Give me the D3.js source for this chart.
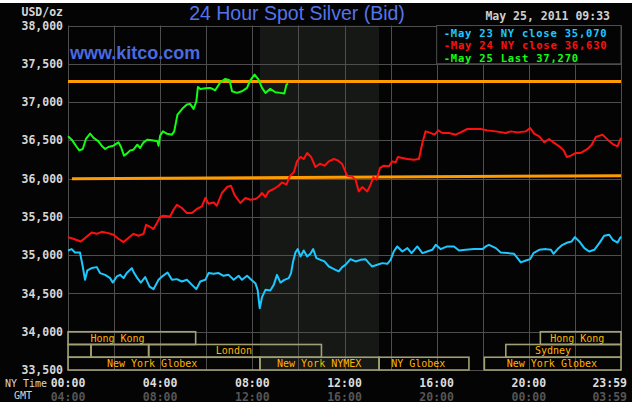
<!DOCTYPE html>
<html>
<head>
<meta charset="utf-8">
<script src="https://cdn.jsdelivr.net/npm/d3@7"></script>
<style>
  body { margin: 0; background: #fff; }
  .mono { font-family: "DejaVu Sans Mono", monospace; font-weight: bold; }
</style>
</head>
<body>
<svg width="638" height="407"></svg>
<script>
// hours since NY midnight, price USD/oz
var may23 = [[0,35061],[0.16,35079],[0.3,35035],[0.52,35035],[0.64,34852],[0.74,34678],[0.84,34800],[1.03,34831],[1.25,34844],[1.39,34766],[1.61,34743],[1.83,34700],[1.94,34642],[2.12,34722],[2.26,34743],[2.41,34700],[2.55,34766],[2.77,34831],[2.87,34766],[3.01,34700],[3.16,34642],[3.35,34713],[3.54,34590],[3.71,34556],[3.93,34678],[4.12,34730],[4.32,34774],[4.51,34678],[4.73,34687],[4.94,34656],[5.16,34678],[5.38,34612],[5.57,34556],[5.74,34656],[5.96,34678],[6.1,34766],[6.32,34757],[6.54,34766],[6.75,34730],[6.97,34743],[7.19,34678],[7.41,34730],[7.55,34678],[7.77,34730],[7.99,34669],[8.13,34634],[8.23,34547],[8.32,34307],[8.42,34451],[8.57,34547],[8.78,34538],[8.93,34612],[9.07,34743],[9.22,34642],[9.39,34678],[9.58,34700],[9.68,34766],[9.77,34918],[9.87,35035],[9.97,35079],[10.09,34983],[10.23,35061],[10.38,34983],[10.52,35018],[10.64,35079],[10.78,34961],[10.96,34939],[11.13,34918],[11.32,34852],[11.46,34831],[11.61,34809],[11.75,34787],[11.9,34844],[12.04,34874],[12.26,34948],[12.48,34918],[12.7,34939],[12.91,34948],[13.06,34896],[13.2,34852],[13.42,34874],[13.64,34896],[13.86,34887],[14.0,34939],[14.14,35048],[14.29,35114],[14.51,35048],[14.73,35092],[14.91,35027],[15.16,35114],[15.38,35027],[15.59,35048],[15.81,35070],[15.96,35135],[16.17,35079],[16.46,35114],[16.75,35114],[16.97,35061],[17.26,35070],[17.62,35079],[17.99,35079],[18.13,35114],[18.27,35135],[18.57,35092],[18.78,35035],[19.07,35027],[19.36,35018],[19.51,34961],[19.65,34905],[19.87,34931],[20.06,34948],[20.2,35027],[20.45,35070],[20.74,35079],[20.96,35070],[21.07,35018],[21.25,35079],[21.46,35135],[21.68,35165],[21.86,35179],[22.0,35236],[22.19,35179],[22.41,35092],[22.62,35048],[22.84,35070],[23.06,35157],[23.27,35253],[23.49,35266],[23.64,35201],[23.85,35165],[24,35245]];

var may24 = [[0,35236],[0.23,35214],[0.55,35179],[0.74,35223],[1.03,35296],[1.25,35279],[1.46,35305],[1.75,35288],[1.97,35266],[2.19,35214],[2.41,35171],[2.62,35223],[2.84,35279],[3.06,35253],[3.28,35279],[3.39,35397],[3.54,35375],[3.71,35341],[3.86,35419],[4.0,35498],[4.14,35515],[4.43,35506],[4.58,35593],[4.73,35659],[4.94,35616],[5.16,35550],[5.38,35550],[5.59,35603],[5.81,35637],[5.96,35747],[6.1,35672],[6.32,35689],[6.46,35646],[6.68,35812],[6.9,35890],[7.07,35907],[7.22,35790],[7.48,35681],[7.7,35747],[7.91,35724],[8.13,35733],[8.27,35760],[8.42,35812],[8.57,35760],[8.71,35834],[8.93,35864],[9.14,35907],[9.29,35950],[9.48,35920],[9.62,36029],[9.8,36082],[9.94,36225],[10.09,36283],[10.23,36256],[10.38,36335],[10.55,36283],[10.74,36152],[10.93,36195],[11.13,36169],[11.32,36225],[11.54,36256],[11.71,36238],[11.9,36190],[12.04,36090],[12.12,36038],[12.33,36029],[12.48,35986],[12.62,35833],[12.77,35890],[12.99,35833],[13.13,35920],[13.25,36020],[13.39,35986],[13.54,36139],[13.71,36169],[13.93,36160],[14.07,36225],[14.22,36212],[14.32,36283],[14.51,36270],[14.73,36256],[15.01,36247],[15.23,36256],[15.38,36466],[15.52,36617],[15.67,36604],[15.91,36574],[16.07,36630],[16.25,36596],[16.54,36596],[16.83,36574],[17.04,36604],[17.33,36648],[17.62,36648],[17.91,36648],[18.2,36630],[18.57,36617],[19.0,36596],[19.22,36617],[19.51,36604],[19.87,36617],[20.06,36661],[20.23,36587],[20.45,36552],[20.67,36474],[20.88,36518],[21.1,36466],[21.32,36422],[21.51,36369],[21.65,36283],[21.83,36300],[22.04,36335],[22.26,36335],[22.55,36387],[22.73,36443],[22.91,36544],[23.2,36574],[23.42,36509],[23.68,36443],[23.85,36422],[24,36531]];

var may25 = [[0,36552],[0.16,36509],[0.38,36413],[0.49,36369],[0.64,36387],[0.78,36518],[0.96,36587],[1.1,36535],[1.32,36487],[1.46,36430],[1.61,36387],[1.75,36413],[1.97,36430],[2.19,36474],[2.3,36413],[2.43,36300],[2.55,36326],[2.7,36369],[2.84,36378],[3.01,36443],[3.13,36400],[3.28,36474],[3.45,36509],[3.64,36500],[3.88,36487],[3.93,36430],[4.0,36561],[4.12,36617],[4.29,36587],[4.51,36574],[4.61,36617],[4.75,36836],[4.87,36879],[4.99,36923],[5.16,36967],[5.3,36976],[5.45,36911],[5.57,37010],[5.64,37198],[5.74,37172],[5.96,37180],[6.17,37185],[6.39,37154],[6.61,37258],[6.83,37302],[7.01,37285],[7.12,37141],[7.33,37120],[7.55,37141],[7.77,37185],[7.91,37285],[8.1,37359],[8.27,37294],[8.42,37185],[8.57,37120],[8.78,37172],[9.0,37128],[9.22,37120],[9.39,37111],[9.48,37228],[9.55,37241]];

var lastLine = [[0,37270],[24,37270]];
var trendLine = [[0.17,35999],[24,36038]];

var yTicks = [33500,34000,34500,35000,35500,36000,36500,37000,37500,38000];
var xTicks = [0,4,8,12,16,20,24];
var nyLabels = ["00:00","04:00","08:00","12:00","16:00","20:00","23:59"];
var gmtLabels = ["04:00","08:00","12:00","16:00","20:00","00:00","03:59"];

var legendItems = [
  {text: "-May 23 NY close 35,070", color: "#1ec8ff"},
  {text: "-May 24 NY close 36,630", color: "#ff1010"},
  {text: "-May 25 Last 37,270", color: "#10ff10"}
];

// row: 0 top .. 2 bottom; times in hours
var sessions = [
  {row: 0, start: 0, end: 5.54, label: "Hong Kong", at: 2.15},
  {row: 0, start: 20.5, end: 24, label: "Hong Kong", at: 22.1},
  {row: 1, start: 0, end: 1.0, label: "", at: 0},
  {row: 1, start: 1.0, end: 3.5, label: "", at: 0},
  {row: 1, start: 3.5, end: 11.0, label: "London", at: 7.2},
  {row: 1, start: 19.0, end: 24, label: "Sydney", at: 21.05},
  {row: 2, start: 0, end: 8.33, label: "New York Globex", at: 3.65},
  {row: 2, start: 8.33, end: 13.5, label: "New York NYMEX", at: 10.9},
  {row: 2, start: 13.5, end: 17.4, label: "NY Globex", at: 15.2},
  {row: 2, start: 18.07, end: 24, label: "New York Globex", at: 21.0}
];
var nymexHours = [8.33, 13.5];

var svg = d3.select("svg");
var x = d3.scaleLinear().domain([0, 24]).range([68, 621]);
var y = d3.scaleLinear().domain([33500, 38000]).range([370, 25.5]);

svg.append("rect").attr("x", 0).attr("y", 3).attr("width", 632).attr("height", 399).attr("fill", "#040404");

// NYMEX shading
svg.append("rect")
  .attr("x", x(nymexHours[0])).attr("y", y(38000))
  .attr("width", x(nymexHours[1]) - x(nymexHours[0]))
  .attr("height", y(33500) - y(38000))
  .attr("fill", "#151815");

// grid
var gGrid = svg.append("g").attr("stroke", "#4e4e4e").attr("stroke-width", 1);
gGrid.selectAll(".h").data(yTicks).enter().append("line")
  .attr("x1", x(0)).attr("x2", x(24))
  .attr("y1", d => Math.round(y(d)) + 0.5).attr("y2", d => Math.round(y(d)) + 0.5);
gGrid.selectAll(".v").data(d3.range(0, 25, 2)).enter().append("line")
  .attr("y1", y(38000)).attr("y2", y(33500))
  .attr("x1", d => Math.round(x(d)) + 0.5).attr("x2", d => Math.round(x(d)) + 0.5);

// market sessions
var rowH = (y(33500) - y(34000)) / 3;
var gSess = svg.append("g");
gSess.selectAll("rect").data(sessions).enter().append("rect")
  .attr("x", d => x(d.start)).attr("y", d => y(34000) + d.row * rowH)
  .attr("width", d => x(d.end) - x(d.start)).attr("height", rowH)
  .attr("fill", "none").attr("stroke", "#a29f72").attr("stroke-width", 1.6);
gSess.selectAll("text").data(sessions.filter(d => d.label)).enter().append("text")
  .attr("x", d => x(d.at)).attr("y", d => y(34000) + (d.row + 0.5) * rowH)
  .attr("dy", "0.36em").attr("text-anchor", "middle")
  .attr("font-family", "DejaVu Sans Mono, monospace").attr("font-size", 10)
  .attr("fill", "#ffb400").text(d => d.label);

// legend box
svg.append("rect")
  .attr("x", x(16)).attr("y", y(38000))
  .attr("width", x(24) - x(16)).attr("height", y(37500) - y(38000))
  .attr("fill", "#040404").attr("stroke", "#4e4e4e");
svg.selectAll(".leg").data(legendItems).enter().append("text")
  .attr("class", "mono")
  .attr("x", x(16) + 7).attr("y", (d, i) => y(38000) + 11 + i * 12.5)
  .attr("font-size", 10.5).attr("letter-spacing", 0.8)
  .attr("fill", d => d.color).text(d => d.text);

// reference lines
var line = d3.line().x(d => x(d[0])).y(d => y(d[1]));
svg.append("path").attr("d", line(trendLine)).attr("fill", "none")
  .attr("stroke", "#ff9a00").attr("stroke-width", 3);
svg.append("path").attr("d", line(lastLine)).attr("fill", "none")
  .attr("stroke", "#ff9a00").attr("stroke-width", 3);

// series
[[may23, "#1ec8ff"], [may24, "#ff1010"], [may25, "#10ff10"]].forEach(s => {
  svg.append("path").attr("d", line(s[0])).attr("fill", "none")
    .attr("stroke", s[1]).attr("stroke-width", 2).attr("stroke-linejoin", "round");
});

// y labels
svg.selectAll(".yl").data(yTicks).enter().append("text")
  .attr("class", "mono")
  .attr("x", 63).attr("y", d => y(d)).attr("dy", "0.36em")
  .attr("text-anchor", "end").attr("font-size", 11.5).attr("fill", "#d6d6d6")
  .text(d => d3.format(",")(d));
svg.append("text").attr("class", "mono").attr("x", 63).attr("y", 12).attr("dy", "0.36em")
  .attr("text-anchor", "end").attr("font-size", 11.5).attr("fill", "#d6d6d6").text("USD/oz");

// x labels
svg.selectAll(".ny").data(xTicks).enter().append("text")
  .attr("class", "mono")
  .attr("x", (d, i) => i == xTicks.length - 1 ? x(d) + 6 : x(d)).attr("y", 383).attr("dy", "0.36em")
  .attr("text-anchor", (d, i) => i == xTicks.length - 1 ? "end" : "middle")
  .attr("font-size", 11.5).attr("fill", "#dcdcdc").text((d, i) => nyLabels[i]);
svg.selectAll(".gmt").data(xTicks).enter().append("text")
  .attr("class", "mono")
  .attr("x", (d, i) => i == xTicks.length - 1 ? x(d) + 6 : x(d)).attr("y", 397).attr("dy", "0.36em")
  .attr("text-anchor", (d, i) => i == xTicks.length - 1 ? "end" : "middle")
  .attr("font-size", 11.5).attr("fill", "#555").text((d, i) => gmtLabels[i]);
svg.append("text").attr("x", 5).attr("y", 383).attr("dy", "0.36em")
  .attr("font-family", "DejaVu Sans Mono, monospace").attr("font-size", 10)
  .attr("fill", "#d6d6d6").text("NY Time");
svg.append("text").attr("x", 14).attr("y", 395).attr("dy", "0.36em")
  .attr("font-family", "DejaVu Sans Mono, monospace").attr("font-size", 10)
  .attr("fill", "#d6d6d6").text("GMT");

// titles
svg.append("text").attr("x", 297).attr("y", 20).attr("text-anchor", "middle")
  .attr("font-family", "Liberation Sans, Arial, sans-serif").attr("font-size", 19.5)
  .attr("fill", "#5474ec").text("24 Hour Spot Silver (Bid)");
svg.append("text").attr("x", 70).attr("y", 59)
  .attr("font-family", "Liberation Sans, Arial, sans-serif").attr("font-size", 18)
  .attr("font-weight", "bold").attr("fill", "#4a6ae0").text("www.kitco.com");
svg.append("text").attr("class", "mono").attr("x", 610).attr("y", 16).attr("dy", "0.36em")
  .attr("text-anchor", "end").attr("font-size", 11.5).attr("fill", "#cfcfcf")
  .text("May 25, 2011 09:33");
</script>
</body>
</html>
